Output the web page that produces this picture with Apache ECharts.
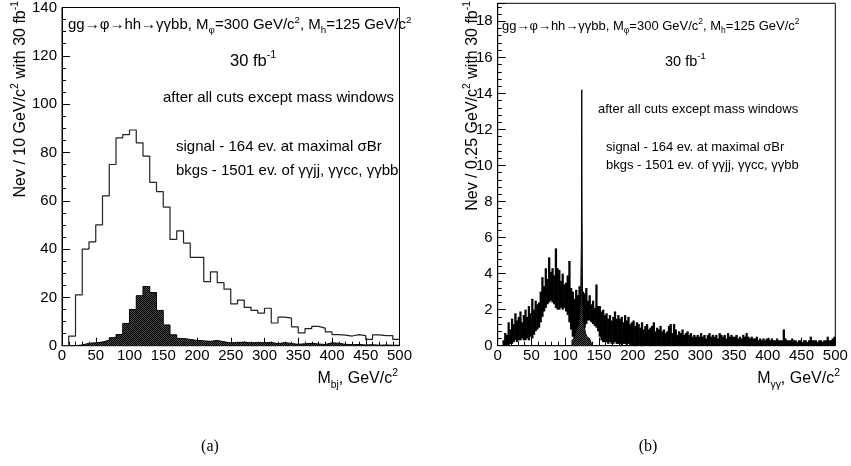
<!DOCTYPE html>
<html><head><meta charset="utf-8">
<script src="https://cdn.jsdelivr.net/npm/echarts@6/dist/echarts.min.js"></script>
<style>html,body{margin:0;padding:0;background:#fff}#c{width:851px;height:466px}</style>
</head><body><div id="c"></div>
<script>
// ---------- data ----------
const leftBinWidth = 10; // GeV per bin, bins from 0 to 500
const leftTotal = [0,4,21,40,43,50,62,75,86,87.4,
  89.3,84,78.5,67.6,63.8,57.4,44,47.5,42.5,36.6,
  36.6,26.5,30.6,26.1,23.4,17.3,18.9,15.9,14.6,13.5,
  15.5,9.4,11.8,11.4,7.8,5.3,7.1,8.0,7.3,5.7,
  4.6,4.4,4.0,4.6,4.2,2.6,4.5,4.2,4.2,2.6];
const leftSignal = [0,0,0.3,1.0,1.2,1.5,2.3,3.3,4.6,9.2,
  15,20.7,24.5,22,14.6,8.6,4.5,3.0,2.6,2.2,
  2.0,1.8,2.2,1.6,1.2,1.3,1.5,1.2,1.3,1.2,
  1.4,0.8,1.3,0.9,0.6,0.8,1.0,0.7,0.5,1.2,
  1.0,0.6,0.4,0.5,0.3,0.4,0.2,0.3,0.2,0.2];

// right panel: 0.25 GeV bins are finer than a pixel; each 2.5 GeV column keeps
// the lowest and highest value the histogram line reaches inside it
const rightColWidth = 2.5;
const rightBandHigh = [0,0,0,0.3, 0.7,0.6,1.3,0.9, 1.5,1.2,1.8,1.4, 1.6,1.9,1.3,1.7,
  2.0,1.6,2.2,1.8, 2.6,2.0,2.5,2.3, 2.4,3.0,3.8,3.3, 4.3,3.7,4.9,4.1,
  4.3,3.9,5.4,4.3, 4.2,3.6,4.0,3.4, 3.5,3.9,4.7,3.2, 3.0,2.6,3.1,2.8,
  3.3,3.0,3.0,2.9, 3.2,2.5,2.8,2.3, 2.5,2.1,3.4,2.2, 2.2,1.9,2.0,1.7,
  1.8,1.5,1.7,1.4, 1.6,1.9,1.5,1.7, 1.5,1.6,1.3,1.7, 1.4,1.6,1.2,1.3,
  1.4,1.1,1.3,1.2, 1.0,1.3,0.9,1.1, 1.2,0.9,1.0,1.1, 1.3,0.8,1.0,0.9,
  1.1,0.8,0.9,0.7, 0.8,1.1,1.2,0.7, 1.2,0.9,0.6,0.8, 0.7,0.9,0.6,0.7,
  0.8,0.6,0.7,0.5, 0.6,0.5,0.6,0.5, 0.7,0.5,0.6,0.4, 0.6,0.7,0.5,0.6,
  0.5,0.6,0.4,0.7, 0.6,0.5,0.6,0.4, 0.7,0.5,0.6,0.5, 0.5,0.6,0.4,0.5,
  0.4,0.6,0.5,0.7, 0.5,0.4,0.5,0.4, 0.4,0.5,0.3,0.4, 0.3,0.4,0.3,0.4,
  0.4,0.3,0.4,0.3, 0.3,0.4,0.3,0.3, 0.3,0.9,0.4,0.3, 0.3,0.3,0.4,0.3,
  0.3,0.2,0.3,0.3, 0.2,0.3,0.3,0.2, 0.3,0.5,0.3,0.3, 0.3,0.2,0.3,0.3,
  0.2,0.3,0.3,0.5, 0.3,0.3,0.4,0.5];
const rightBandLow = [0,0,0,0, 0,0,0,0.1, 0.1,0.2,0.3,0.2, 0.3,0.3,0.4,0.3,
  0.3,0.4,0.3,0.5, 0.4,0.6,0.8,0.9, 1.0,1.3,1.6,1.9, 2.1,2.3,2.4,2.5,
  2.4,2.3,2.1,2.0, 2.0,2.1,2.0,2.1, 1.9,1.7,1.3,0.9, 0.5,0.3,0.2,0.1,
  0.3,0.5,0.8,1.0, 1.2,1.4,1.4,1.3, 1.2,1.1,1.0,0.8, 0.5,0.3,0.2,0.2,
  0.2,0.1,0.2,0.1, 0.1,0.2,0.1,0.1, 0.1,0,0.1,0.1, 0,0.1,0,0,
  0,0,0,0, 0,0,0,0, 0,0,0,0, 0,0,0,0, 0,0,0,0, 0,0,0,0, 0,0,0,0, 0,0,0,0,
  0,0,0,0, 0,0,0,0, 0,0,0,0, 0,0,0,0, 0,0,0,0, 0,0,0,0, 0,0,0,0, 0,0,0,0,
  0,0,0,0, 0,0,0,0, 0,0,0,0, 0,0,0,0, 0,0,0,0, 0,0,0,0, 0,0,0,0, 0,0,0,0,
  0,0,0,0, 0,0,0,0, 0,0,0,0, 0,0,0,0, 0,0,0,0, 0,0,0,0];
const rightSignalEdges = [110,112,114,116,118,120,121,122,123,124,124.5,125,125.5,126,127,128,129,130,132,134,136,138,140];
const rightSignalValues = [0.3,0.4,0.6,0.8,1.0,1.3,1.6,2.2,3.0,6,14.2,7,3.2,2.2,1.6,1.2,0.9,0.7,0.5,0.4,0.3,0.2];

// ---------- helpers ----------
const FF = '"Liberation Sans", Arial, Helvetica, sans-serif';
function stepData(vals, w) {
  const d = vals.map((v, i) => [i * w, v]);
  d.push([vals.length * w, vals[vals.length - 1]]);
  return d;
}
function edgeStepData(edges, vals) {
  const d = [[edges[0], 0]];
  vals.forEach((v, i) => d.push([edges[i], v]));
  d.push([edges[edges.length - 1], 0]);
  return d;
}
// dark cross-hatched fill used for the signal histograms
const hatch = document.createElement('canvas');
hatch.width = 2; hatch.height = 2;
(function () {
  const g = hatch.getContext('2d');
  g.fillStyle = '#000'; g.fillRect(0, 0, 2, 2);
  g.fillStyle = '#4a4a4a'; g.fillRect(1, 0, 1, 1); g.fillRect(0, 1, 1, 1);
})();
const hatchFill = {image: hatch, repeat: 'repeat'};

function txt(x, y, text, size, o) {
  o = o || {};
  const s = size * 0.65;
  return {
    type: 'text', x: x, y: y, rotation: o.rot || 0, z: 100,
    style: {
      text: text, fontSize: size, fontFamily: o.ff || FF, fill: '#000',
      align: o.align || 'left', verticalAlign: 'middle', lineHeight: size * 1.35,
      rich: {
        sup: {fontSize: s, lineHeight: s, verticalAlign: 'top', fontFamily: FF, fill: '#000'},
        sub: {fontSize: s, lineHeight: s, verticalAlign: 'bottom', fontFamily: FF, fill: '#000'}
      }
    }
  };
}
function xAx(gi) {
  return {
    gridIndex: gi, type: 'value', min: 0, max: 500, interval: 50,
    axisLine: {show: true, onZero: false, lineStyle: {color: '#000', width: 1}},
    axisTick: {show: true, inside: true, length: 8, lineStyle: {color: '#000'}},
    minorTick: {show: true, splitNumber: 5, length: 4, lineStyle: {color: '#000'}},
    splitLine: {show: false},
    axisLabel: {color: '#000', fontSize: 15, fontFamily: FF, margin: 3}
  };
}
function yAx(gi, max, interval, minor) {
  return {
    gridIndex: gi, type: 'value', min: 0, max: max, interval: interval,
    axisLine: {show: true, onZero: false, lineStyle: {color: '#000', width: 1}},
    axisTick: {show: true, inside: true, length: 8, lineStyle: {color: '#000'}},
    minorTick: {show: true, splitNumber: minor, length: 4, lineStyle: {color: '#000'}},
    splitLine: {show: false},
    axisLabel: {color: '#000', fontSize: 15, fontFamily: FF, margin: 5, showMaxLabel: max % interval === 0}
  };
}

const chart = echarts.init(document.getElementById('c'), null, {renderer: 'canvas'});
chart.setOption({
  animation: false,
  backgroundColor: '#fff',
  grid: [
    {left: 62, top: 3, width: 337.5, height: 342.7, show: true, borderColor: '#000', borderWidth: 1, backgroundColor: 'transparent'},
    {left: 497.7, top: 3.3, width: 337.6, height: 342.4, show: true, borderColor: '#000', borderWidth: 1, backgroundColor: 'transparent'}
  ],
  xAxis: [xAx(0), xAx(1)],
  yAxis: [yAx(0, 140, 20, 4), yAx(1, 19, 2, 5)],
  series: [
    {
      type: 'line', xAxisIndex: 0, yAxisIndex: 0, step: 'end', symbol: 'none',
      data: stepData(leftSignal, leftBinWidth),
      lineStyle: {color: '#000', width: 1}, areaStyle: {color: hatchFill, opacity: 1}, z: 2
    },
    {
      type: 'line', xAxisIndex: 0, yAxisIndex: 0, step: 'end', symbol: 'none',
      data: stepData(leftTotal, leftBinWidth),
      lineStyle: {color: '#222', width: 1.2}, z: 3
    },
    {
      type: 'custom', xAxisIndex: 1, yAxisIndex: 1, z: 3,
      data: rightBandHigh.map((h, i) => [i * rightColWidth, rightBandLow[i], h]),
      encode: {x: 0, y: 2},
      renderItem: function (params, api) {
        const x0 = api.value(0), lo = api.value(1), hi = api.value(2);
        if (!(hi > 0)) return null;
        const a = api.coord([x0, hi]);
        const b = api.coord([x0 + rightColWidth, lo]);
        return {type: 'rect', shape: {x: a[0] - 0.3, y: a[1], width: b[0] - a[0] + 0.6, height: Math.max(1, b[1] - a[1])}, style: {fill: '#000'}};
      }
    },
    {
      type: 'line', xAxisIndex: 1, yAxisIndex: 1, step: 'end', symbol: 'none',
      data: edgeStepData(rightSignalEdges, rightSignalValues),
      lineStyle: {color: '#000', width: 1}, areaStyle: {color: hatchFill, opacity: 1}, z: 4
    }
  ],
  graphic: [
    // left panel
    txt(68, 25, 'gg→φ→hh→γγbb, M{sub|φ}=300 GeV/c{sup|2}, M{sub|h}=125 GeV/c{sup|2}', 15),
    txt(230, 61, '30 fb{sup|-1}', 16.5),
    txt(163, 98, 'after all cuts except mass windows', 15),
    txt(176, 147, 'signal - 164 ev. at maximal σBr', 15),
    txt(176, 171, 'bkgs - 1501 ev. of γγjj, γγcc, γγbb', 15),
    txt(21, 1, 'Nev / 10 GeV/c{sup|2} with 30 fb{sup|-1}', 16, {rot: Math.PI / 2, align: 'right'}),
    txt(398, 379, 'M{sub|bj}, GeV/c{sup|2}', 16, {align: 'right'}),
    txt(210, 447, '(a)', 16, {align: 'center', ff: '"Liberation Serif", "Times New Roman", serif'}),
    // right panel
    txt(502, 26, 'gg→φ→hh→γγbb, M{sub|φ}=300 GeV/c{sup|2}, M{sub|h}=125 GeV/c{sup|2}', 13),
    txt(665, 62, '30 fb{sup|-1}', 14.5),
    txt(598, 109, 'after all cuts except mass windows', 13),
    txt(606, 147, 'signal - 164 ev. at maximal σBr', 13),
    txt(606, 165, 'bkgs - 1501 ev. of γγjj, γγcc, γγbb', 13),
    txt(473, 1, 'Nev / 0.25 GeV/c{sup|2} with 30 fb{sup|-1}', 16, {rot: Math.PI / 2, align: 'right'}),
    txt(840, 379, 'M{sub|γγ}, GeV/c{sup|2}', 16, {align: 'right'}),
    txt(648, 447, '(b)', 16, {align: 'center', ff: '"Liberation Serif", "Times New Roman", serif'})
  ]
});
</script>
</body></html>
